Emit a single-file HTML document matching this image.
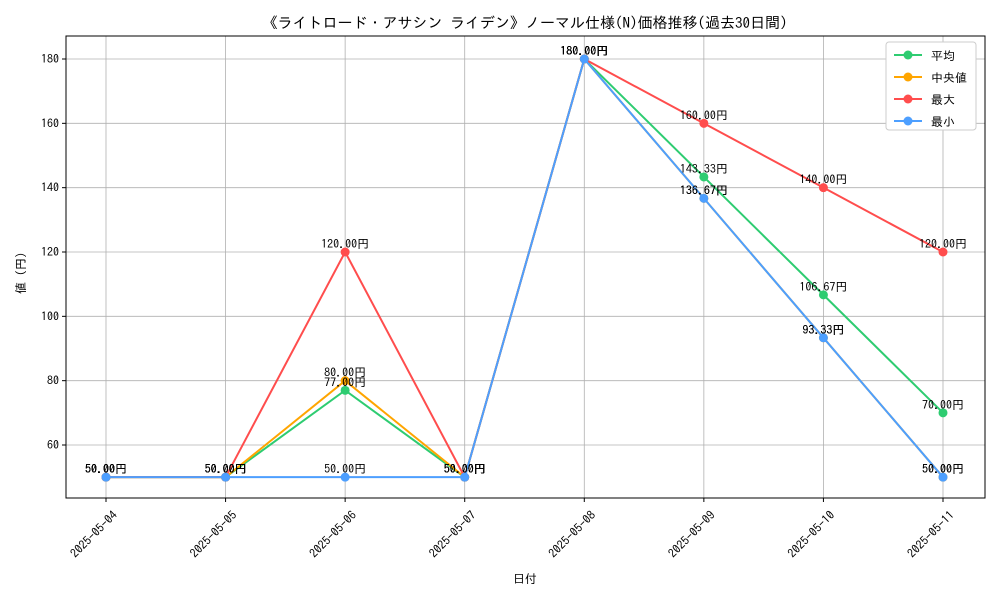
<!DOCTYPE html>
<html><head><meta charset="utf-8"><style>
body{margin:0;background:#fff;}
svg{font-family:"IPAGothic","Liberation Sans","Noto Sans CJK JP",sans-serif;}
</style></head><body>
<svg id="chart" width="1000" height="600" viewBox="0 0 1000 600">
<rect width="1000" height="600" fill="#fff"/>
<text x="525" y="28" text-anchor="middle" font-size="15">《ライトロード・アサシン ライデン》ノーマル仕様(N)価格推移(過去30日間)</text>
<g id="grid"></g><g id="axes"></g><g id="series"></g><g id="labels"></g>
<text x="525" y="583" text-anchor="middle" font-size="12">日付</text>
<text transform="translate(25,270) rotate(-90)" text-anchor="middle" font-size="12">値（円）</text>
<g id="legend"></g>
</svg>
<script>
const categories=["2025-05-04","2025-05-05","2025-05-06","2025-05-07","2025-05-08","2025-05-09","2025-05-10","2025-05-11"];
const avgValues=[50,50,77,50,180,143.33,106.67,70];
const medianValues=[50,50,80,50,180,136.67,93.33,50];
const maxValues=[50,50,120,50,180,160,140,120];
const minValues=[50,50,50,50,180,136.67,93.33,50];
const yTicks=[60,80,100,120,140,160,180];
const seriesNames=["平均","中央値","最大","最小"];
const NS="http://www.w3.org/2000/svg";
const L=66,R=985,T=36,B=498;
const x=i=>106+i*(943-106)/(categories.length-1);
const y=v=>445-(v-60)*(386/120);
function mk(tag,attrs,parent){const e=document.createElementNS(NS,tag);for(const k in attrs)e.setAttribute(k,attrs[k]);parent.appendChild(e);return e;}
const grid=document.getElementById('grid'),axes=document.getElementById('axes');
categories.forEach((c,i)=>{
 const g=mk('line',{x1:x(i),x2:x(i),y1:T,y2:B,stroke:'#b0b0b0','stroke-width':0.8},grid);
 
 
 mk('line',{x1:x(i),x2:x(i),y1:B,y2:B+4,stroke:'#000'},axes);
 const ax=x(i)+6, ay=B+12;
 const t=mk('text',{x:ax,y:ay,'font-size':12,'text-anchor':'end',transform:`rotate(-45 ${ax} ${ay})`,dy:'0.7em'},axes);
 t.textContent=c;
 
 
});
yTicks.forEach(v=>{
 const g=mk('line',{x1:L,x2:R,y1:y(v),y2:y(v),stroke:'#b0b0b0','stroke-width':0.8},grid);
 
 
 mk('line',{x1:L-4,x2:L,y1:y(v),y2:y(v),stroke:'#000'},axes);
 const t=mk('text',{x:L-7,y:y(v)+4,'font-size':12,'text-anchor':'end'},axes);
 t.textContent=v;
 
 
});
const frame=mk('rect',{x:L,y:T,width:R-L,height:B-T,fill:'none',stroke:'#000','stroke-width':1},axes);


const series=[[avgValues,'#2ecc71','avg'],[medianValues,'#ffa500','median'],[maxValues,'#ff4d4d','max'],[minValues,'#4d9fff','min']];
const sg=document.getElementById('series'),lg=document.getElementById('labels');
series.forEach(([vals,col,nm])=>{
 const p=mk('polyline',{points:vals.map((v,i)=>x(i)+','+y(v)).join(' '),fill:'none',stroke:col,'stroke-width':2},sg);
 
 
 vals.forEach((v,i)=>{
  const c=mk('circle',{cx:x(i),cy:y(v),r:4.5,fill:col},sg);
  
  
  const t=mk('text',{x:x(i),y:y(v)-4,'font-size':12,'text-anchor':'middle'},lg);
  t.textContent=v.toFixed(2)+'円';
  
  
 });
});
const leg=document.getElementById('legend');
const box=mk('rect',{x:886,y:42,width:90,height:88,fill:'#fff',stroke:'#ccc',rx:3},leg);


series.forEach(([v,col,nm],k)=>{
 const yy=55+k*22;
 const ln=mk('line',{x1:894,x2:922,y1:yy,y2:yy,stroke:col,'stroke-width':2},leg);
 
 
 mk('circle',{cx:908,cy:yy,r:4.5,fill:col},leg);
 const t=mk('text',{x:931,y:yy+5,'font-size':12},leg);
 t.textContent=seriesNames[k];
 
 
});
</script>
</body></html>
